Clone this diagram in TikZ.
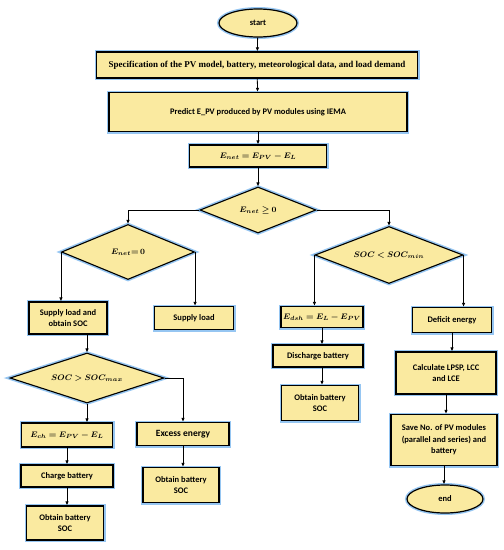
\documentclass[tikz,border=0pt]{standalone}
\usepackage{fontspec}
\usepackage{bm}
\setmainfont{Carlito}
\newfontfamily\specfont{Liberation Serif}
\usetikzlibrary{shapes.geometric,arrows.meta}
\definecolor{boxyellow}{RGB}{250,234,160}
\definecolor{glowblue}{RGB}{150,198,242}
\tikzset{
  glow/.style={preaction={draw=glowblue,line width=4pt}},
  proc/.style={rectangle,draw=black,line width=1.2pt,fill=boxyellow,glow,
    inner sep=1pt,align=center,font=\fontsize{8.5}{11.5}\selectfont\bfseries},
  dec/.style={diamond,draw=black,line width=1.1pt,fill=boxyellow,glow,
    inner sep=0pt,font=\fontsize{8}{10}\selectfont},
  term/.style={ellipse,draw=black,line width=1.2pt,fill=boxyellow,glow,
    inner sep=0pt,font=\fontsize{8.5}{10}\selectfont\bfseries},
  flow/.style={-{Latex[length=4pt,width=3.5pt]},line width=0.8pt}
}
\begin{document}
\begin{tikzpicture}[x=1pt,y=-1pt]
\useasboundingbox (0,0) rectangle (504,550);
% main column
\node[term,minimum width=78pt,minimum height=28pt] (start) at (258,23) {start};
\node[proc,minimum width=321pt,minimum height=26pt,font=\fontsize{9}{10}\selectfont\specfont\bfseries] (spec) at (257,65)
  {Specification of the PV model, battery, meteorological data, and load demand};
\node[proc,minimum width=298pt,minimum height=39pt] (pred) at (258,112) {Predict E\_PV produced by PV modules using IEMA};
\node[proc,minimum width=137pt,minimum height=22pt] (enet) at (258,156) {$\bm{E_{net}=E_{PV}-E_{L}}$};
\node[dec,minimum width=116pt,minimum height=46pt,aspect=2.5] (dnet) at (258,210) {$\bm{E_{net}\geq 0}$};
% surplus side
\node[dec,minimum width=133pt,minimum height=55pt,aspect=2.4] (dzero) at (128,252) {$\bm{E_{net}{=}\,0}$};
\node[proc,minimum width=78pt,minimum height=32pt] (supsoc) at (68,318) {Supply load and\\obtain SOC};
\node[proc,minimum width=79pt,minimum height=23pt] (sup) at (194,318) {Supply load};
\node[dec,minimum width=154pt,minimum height=50pt,aspect=3] (dmax) at (87,378) {$\bm{SOC>SOC_{max}}$};
\node[proc,minimum width=91pt,minimum height=24pt] (ech) at (67,435) {$\bm{E_{ch}=E_{PV}-E_{L}}$};
\node[proc,minimum width=92pt,minimum height=23pt,font=\fontsize{9.5}{11}\selectfont\bfseries] (exc) at (183,434) {Excess energy};
\node[proc,minimum width=92pt,minimum height=22pt] (chg) at (67,476) {Charge battery};
\node[proc,minimum width=77pt,minimum height=34pt] (obtl) at (65,523) {Obtain battery\\SOC};
\node[proc,minimum width=76pt,minimum height=35pt] (obtr) at (181,485) {Obtain battery\\SOC};
% deficit side
\node[dec,minimum width=148pt,minimum height=57pt,aspect=2.6] (dmin) at (389,255) {$\bm{SOC<SOC_{min}}$};
\node[proc,minimum width=82pt,minimum height=21pt] (edsh) at (322,317) {$\bm{E_{dsh}=E_{L}-E_{PV}}$};
\node[proc,minimum width=79pt,minimum height=25pt] (defi) at (452,320) {Deficit energy};
\node[proc,minimum width=90pt,minimum height=22pt] (dis) at (318,356) {Discharge battery};
\node[proc,minimum width=77pt,minimum height=35pt] (obtm) at (320,403) {Obtain battery\\SOC};
\node[proc,minimum width=100pt,minimum height=42pt] (calc) at (446,373) {Calculate LPSP, LCC\\and LCE};
\node[proc,minimum width=106pt,minimum height=51pt] (save) at (444,440) {Save No. of PV modules\\(parallel and series) and\\battery};
\node[term,minimum width=76pt,minimum height=28pt] (end) at (445,499) {end};
% connectors
\draw[flow] (start) -- (spec);
\draw[flow] (spec) -- (pred);
\draw[flow] (pred) -- (enet);
\draw[flow] (enet) -- (dnet);
\draw[flow] (dnet.west) -| (dzero.north);
\draw[flow] (dnet.east) -| (dmin.north);
\draw[flow] (dzero.west) -- (dzero.west |- supsoc.north);
\draw[flow] (dzero.east) -- (dzero.east |- sup.north);
\draw[flow] (dmax.north |- supsoc.south) -- (dmax.north);
\draw[flow] (dmax.south) -- (dmax.south |- ech.north);
\draw[flow] (dmax.east) -| (exc.north);
\draw[flow] (ech) -- (ech |- chg.north);
\draw[flow] (chg) -- (chg |- obtl.north);
\draw[flow] (exc) -- (exc |- obtr.north);
\draw[flow] (dmin.west) -- (dmin.west |- edsh.north);
\draw[flow] (dmin.east) -- (dmin.east |- defi.north);
\draw[flow] (edsh) -- (edsh |- dis.north);
\draw[flow] (dis.south -| edsh) -- (edsh |- obtm.north);
\draw[flow] (defi) -- (defi |- calc.north);
\draw[flow] (calc) -- (calc |- save.north);
\draw[flow] (save) -- (save |- end.north);
\end{tikzpicture}
\end{document}
